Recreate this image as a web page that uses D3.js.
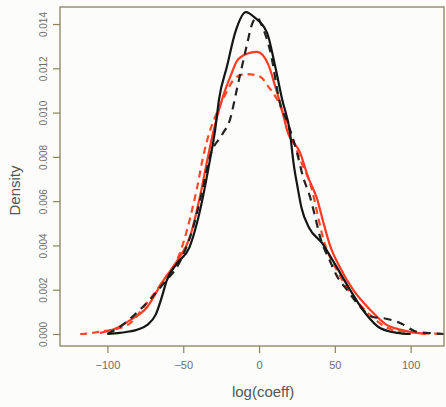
<!DOCTYPE html>
<html><head><meta charset="utf-8">
<script src="https://cdn.jsdelivr.net/npm/d3@7"></script>
<style>body{margin:0;background:#fcfcfa;}svg{display:block;}</style>
</head><body><svg id="c" width="446" height="407"></svg>
<script>
// ---- data (x = log(coeff), y = density) ----
const blackSolid = [[-100,0],[-92,0.00005],[-80,0.0002],[-74,0.0004],[-68,0.0009],[-64,0.0017],[-61,0.0024],[-54,0.0032],[-46,0.0039],[-41,0.005],[-37,0.0062],[-32.3,0.0079],[-29,0.0092],[-26.4,0.0106],[-21.1,0.0121],[-15.8,0.0136],[-8.6,0.01454],[-3,0.0143],[5.3,0.0136],[10.6,0.0121],[15.2,0.0106],[20.4,0.0091],[22.8,0.0077],[25.5,0.0066],[28,0.0057],[33,0.0048],[41.6,0.0041],[48.8,0.0033],[60,0.002],[70,0.00095],[79.8,0.00027],[91,0.00005],[100,0]];
const blackDashed = [[-100,0],[-93,0.00027],[-77,0.0012],[-70,0.0017],[-64,0.0022],[-52,0.0033],[-44,0.0047],[-38,0.0063],[-32,0.0081],[-24.4,0.009],[-19.1,0.0097],[-14.5,0.0111],[-11.2,0.0121],[-7.9,0.0131],[-4.6,0.014],[-1.3,0.0143],[2,0.0139],[7.3,0.0128],[13.9,0.0104],[19.1,0.0095],[25,0.0082],[29,0.0071],[33.6,0.0062],[37,0.0053],[40.2,0.0044],[46.8,0.0033],[51.5,0.0026],[58,0.002],[64.6,0.0014],[75.2,0.00077],[83.1,0.0007],[93,0.0005],[104.2,0.0001],[115,0.00003],[122,0]];
const redSolid = [[-105,0.00005],[-96.3,0.0002],[-85,0.00063],[-74,0.0012],[-63.3,0.0024],[-54,0.0033],[-45.5,0.0044],[-39,0.0062],[-34.3,0.0078],[-30.3,0.0091],[-24.4,0.0106],[-19.1,0.0116],[-13.9,0.0124],[-6,0.0127],[-1.3,0.01274],[5.9,0.0122],[10.6,0.0112],[15.2,0.0101],[18.5,0.0092],[27,0.0082],[32.3,0.0071],[38.3,0.0061],[42.2,0.0051],[46.8,0.004],[53.4,0.003],[62,0.002],[73.2,0.0011],[84.4,0.0004],[93,0.0002],[104.2,0.00005],[110,0]];
const redDashed = [[-118,0],[-113.5,0.00002],[-105,0.0001],[-87,0.0004],[-74,0.0014],[-63.3,0.0024],[-52,0.0037],[-47.5,0.0047],[-44.2,0.0056],[-40.9,0.0066],[-36.9,0.008],[-32.3,0.0092],[-29,0.0098],[-22.4,0.0108],[-15.8,0.01156],[-9.2,0.01174],[-2.6,0.0117],[2,0.01156],[5.9,0.0112],[11.9,0.0106],[19.1,0.0094],[27,0.0079],[35,0.0065],[38.3,0.0055],[41.6,0.0045],[52,0.0028],[60,0.0019],[73.2,0.00086],[88.4,0.00018],[97.6,0.0001],[106.2,0.00005],[123,0]];
const xTicks = [-100,-50,0,50,100];
const yTicks = [0,0.002,0.004,0.006,0.008,0.010,0.012,0.014];
const xTitle = "log(coeff)";
const yTitle = "Density";

const svg = d3.select("#c");
const L = 60, R = 444, T = 7, B = 346;
const x = d3.scaleLinear().domain([-131.3, 122]).range([L, R]);
const y = d3.scaleLinear().domain([-0.000542, 0.01477]).range([B, T]);
const axisCol = "#8c8260", textCol = "#6e6e6a";

svg.append("rect").attr("width",446).attr("height",407).attr("fill","#fcfcfa");
svg.append("defs").append("clipPath").attr("id","clip").append("rect")
  .attr("x",L).attr("y",T).attr("width",R-L).attr("height",B-T);

const line = d3.line().x(d=>x(d[0])).y(d=>y(d[1])).curve(d3.curveMonotoneX);
const g = svg.append("g").attr("clip-path","url(#clip)");
const series = [
  {d: redDashed, c:"#ff4a2a", dash:"7,5"},
  {d: redSolid, c:"#ff3a22", dash:null},
  {d: blackDashed, c:"#222", dash:"8,6"},
  {d: blackSolid, c:"#151515", dash:null}
];
series.forEach(s=>{
  g.append("path").attr("d", line(s.d)).attr("fill","none").attr("stroke", s.c)
   .attr("stroke-width", 2.2).attr("stroke-dasharray", s.dash).attr("stroke-linejoin","round");
});

// box
svg.append("rect").attr("x",L).attr("y",T).attr("width",R-L).attr("height",B-T)
  .attr("fill","none").attr("stroke",axisCol).attr("stroke-width",1.3);

const xa = svg.append("g").attr("transform",`translate(0,${B})`)
  .call(d3.axisBottom(x).tickValues(xTicks).tickSize(7).tickPadding(8).tickFormat(d=>d<0?"\u2212"+Math.abs(d):d));
xa.select(".domain").remove();
xa.selectAll("line").attr("stroke",axisCol).attr("stroke-width",1.2);
xa.selectAll("text").attr("fill",textCol).attr("font-family","Liberation Sans, Arial, sans-serif").attr("font-size",11);

const ya = svg.append("g").attr("transform",`translate(${L},0)`)
  .call(d3.axisLeft(y).tickValues(yTicks).tickSize(7).tickPadding(0).tickFormat(d3.format(".3f")));
ya.select(".domain").remove();
ya.selectAll("line").attr("stroke",axisCol).attr("stroke-width",1.2);
ya.selectAll("text").attr("fill",textCol).attr("font-family","Liberation Sans, Arial, sans-serif").attr("font-size",10)
  .attr("text-anchor","middle").attr("x",0).attr("dy",null)
  .attr("transform","translate(-17,0) rotate(-90)").attr("dominant-baseline","central");

svg.append("text").attr("x",(x(0)+x(0))/2+4).attr("y",397).attr("text-anchor","middle")
  .attr("font-family","Liberation Sans, Arial, sans-serif").attr("font-size",15).attr("fill","#555")
  .text(xTitle);
svg.append("text").attr("transform",`translate(20,${(T+B)/2+14}) rotate(-90)`).attr("text-anchor","middle")
  .attr("font-family","Liberation Sans, Arial, sans-serif").attr("font-size",15).attr("fill","#555")
  .text(yTitle);
</script></body></html>
